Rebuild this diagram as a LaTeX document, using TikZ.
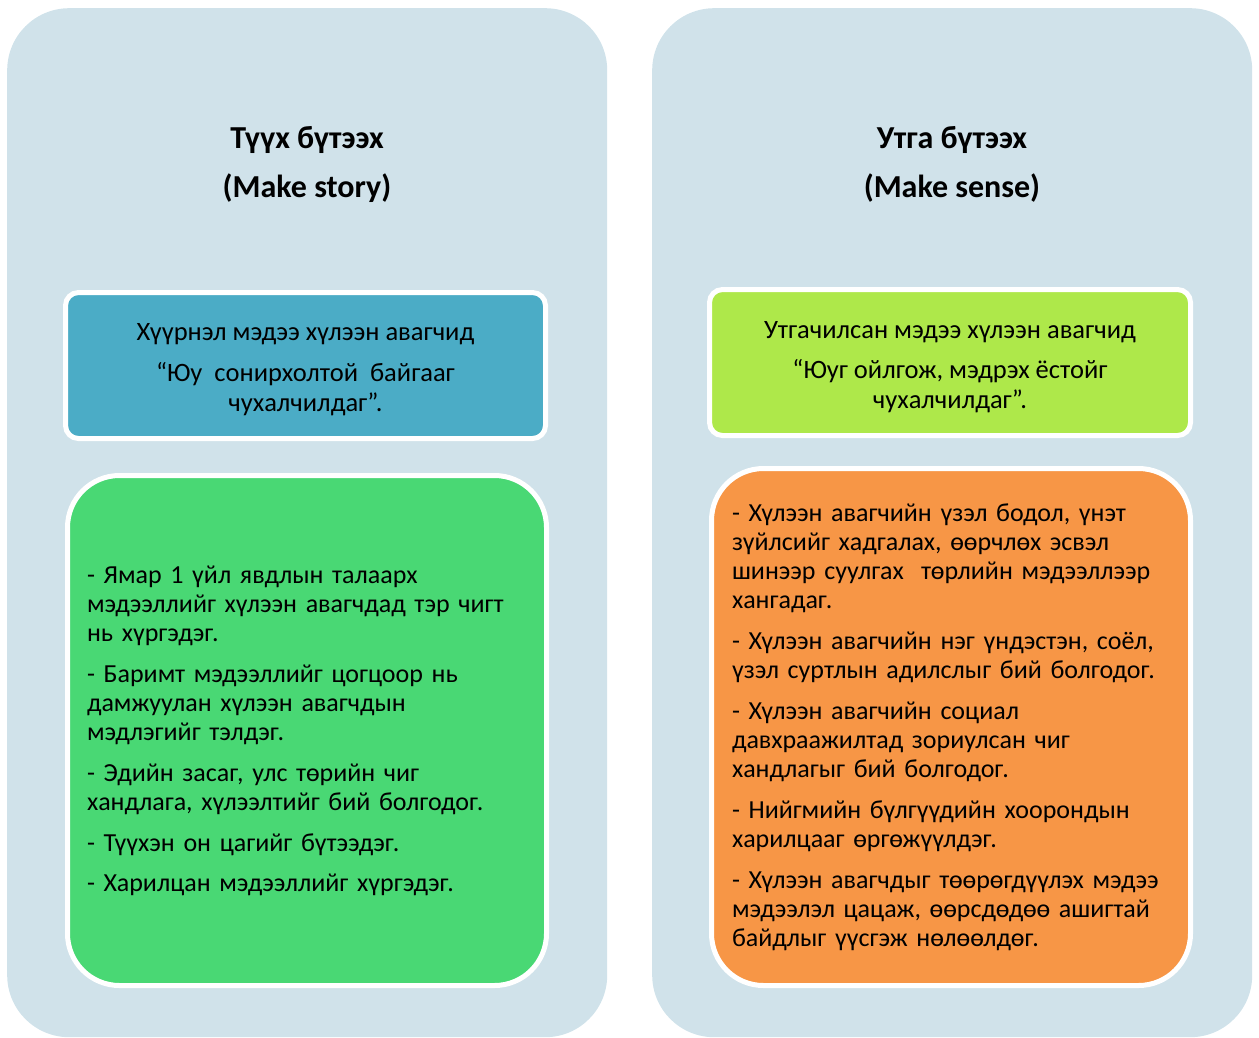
\documentclass[tikz,border=0pt]{standalone}
\usepackage{fontspec}
\setmainfont{Carlito}
\definecolor{panelc}{RGB}{208,226,234}
\definecolor{bluec}{RGB}{75,172,198}
\definecolor{greenc}{RGB}{73,216,116}
\definecolor{limec}{RGB}{174,232,74}
\definecolor{orangec}{RGB}{247,150,70}
\begin{document}
\begin{tikzpicture}[x=1pt,y=-1pt,
  panel/.style={fill=panelc, rounded corners=62pt, anchor=north west, minimum width=600pt, minimum height=1029pt, inner sep=0pt},
  titletext/.style={font=\bfseries\fontsize{32}{49}\selectfont, align=center, inner sep=0pt},
  headbox/.style={draw=white, line width=5pt, rounded corners=13pt, minimum height=146pt, align=center, inner sep=0pt, font=\fontsize{26.5}{30}\selectfont},
  listbox/.style={draw=white, line width=5pt, rounded corners=52pt, align=left, inner sep=0pt, font=\fontsize{26}{29}\selectfont}
]
\useasboundingbox (0,0) rectangle (1259,1037);
\node (lp) [panel] at (7,8) {};
\node (rp) [panel] at (652,8) {};
\node (lt) [titletext] at (307,164) {Түүх бүтээх\\(Make story)};
\node (rt) [titletext] at (952,164) {Утга бүтээх\\(Make sense)};
\node (bb) [headbox, fill=bluec, minimum width=480pt] at (305.5,365.5)
  {\rule{0pt}{26pt}Хүүрнэл мэдээ хүлээн авагчид\\[11pt]“Юу~ сонирхолтой~ байгааг\\чухалчилдаг”.};
\node (yb) [headbox, fill=limec, minimum width=481pt] at (950,362.5)
  {\rule{0pt}{26pt}Утгачилсан мэдээ хүлээн авагчид\\[10pt]“Юуг ойлгож, мэдрэх ёстойг\\чухалчилдаг”.};
\node (gb) [listbox, fill=greenc, minimum width=479pt, minimum height=510pt, text width=440pt] at (307,730.5)
  {- Ямар 1 үйл явдлын талаарх\\мэдээллийг хүлээн авагчдад тэр чигт\\нь хүргэдэг.\\[12pt]
   - Баримт мэдээллийг цогцоор нь\\дамжуулан хүлээн авагчдын\\мэдлэгийг тэлдэг.\\[12pt]
   - Эдийн засаг, улс төрийн чиг\\хандлага, хүлээлтийг бий болгодог.\\[12pt]
   - Түүхэн он цагийг бүтээдэг.\\[11pt]
   - Харилцан мэдээллийг хүргэдэг.};
\node (ob) [listbox, fill=orangec, minimum width=479pt, minimum height=517pt, text width=438pt] at (951,727)
  {- Хүлээн авагчийн үзэл бодол, үнэт\\зүйлсийг хадгалах, өөрчлөх эсвэл\\шинээр суулгах~ төрлийн мэдээллээр\\хангадаг.\\[12pt]
   - Хүлээн авагчийн нэг үндэстэн, соёл,\\үзэл суртлын адилслыг бий болгодог.\\[12pt]
   - Хүлээн авагчийн социал\\давхраажилтад зориулсан чиг\\хандлагыг бий болгодог.\\[12pt]
   - Нийгмийн бүлгүүдийн хоорондын\\харилцааг өргөжүүлдэг.\\[12pt]
   - Хүлээн авагчдыг төөрөгдүүлэх мэдээ\\мэдээлэл цацаж, өөрсдөдөө ашигтай\\байдлыг үүсгэж нөлөөлдөг.};
\end{tikzpicture}
\end{document}
